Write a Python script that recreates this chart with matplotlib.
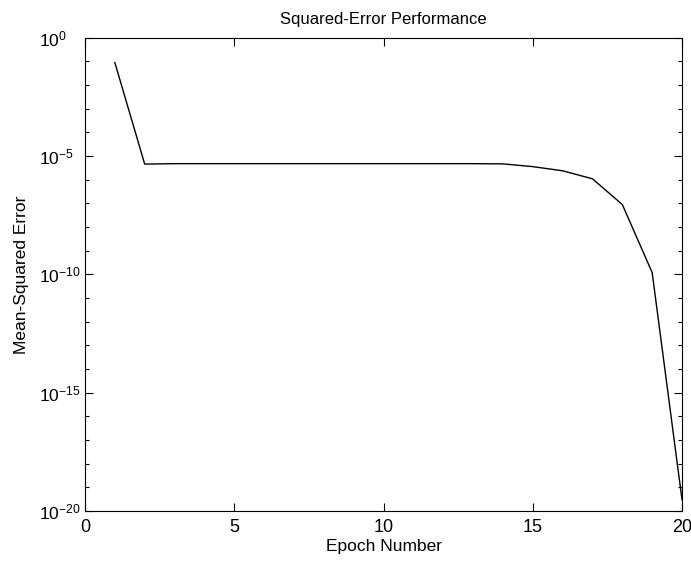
import numpy as np
import matplotlib.pyplot as plt
from matplotlib.ticker import NullFormatter

# Dane (błąd średniokwadratowy w kolejnych epokach)
epochs = np.arange(1, 21)
mse = [9e-2, 4.6e-6, 4.8e-6, 4.8e-6, 4.8e-6, 4.8e-6, 4.8e-6, 4.8e-6, 4.8e-6,
       4.8e-6, 4.8e-6, 4.8e-6, 4.8e-6, 4.7e-6, 3.6e-6, 2.4e-6, 1.1e-6,
       9e-8, 1.2e-10, 3e-20]

x_ticks = [0, 5, 10, 15, 20]
y_ticks = [1e0, 1e-5, 1e-10, 1e-15, 1e-20]

plt.rcParams['font.family'] = ['Liberation Sans', 'DejaVu Sans']
plt.rcParams['axes.unicode_minus'] = False

fig = plt.figure(figsize=(6.91, 5.62), dpi=100)
ax = fig.add_axes([0.123, 0.0907, 0.864, 0.842])

ax.semilogy(epochs, mse, 'k-', linewidth=1.0)

ax.set_xlim(0, 20)
ax.set_ylim(1e-20, 1e0)
ax.set_xticks(x_ticks)
ax.set_yticks(y_ticks)
ax.set_yticks([10.0 ** -k for k in range(21)], minor=True)
ax.yaxis.set_minor_formatter(NullFormatter())

ax.tick_params(which='both', direction='in', top=True, right=True,
               labelsize=13, width=0.8)
ax.tick_params(which='major', length=6)
ax.tick_params(which='minor', length=3)
ax.tick_params(axis='x', pad=6)
# etykiety osi Y wyrównane do lewej, jak w MATLABie ("10" w jednej kolumnie)
ax.tick_params(axis='y', pad=33, labelsize=12.5)
for lab in ax.get_yticklabels():
    lab.set_horizontalalignment('left')
for s in ax.spines.values():
    s.set_linewidth(0.8)

ax.set_xlabel('Epoch Number', fontsize=12.5, labelpad=2)
ax.set_ylabel('Mean-Squared Error', fontsize=12.5, labelpad=7)
ax.set_title('Squared-Error Performance', fontsize=12, pad=10)

fig.savefig('out.png', dpi=100)
